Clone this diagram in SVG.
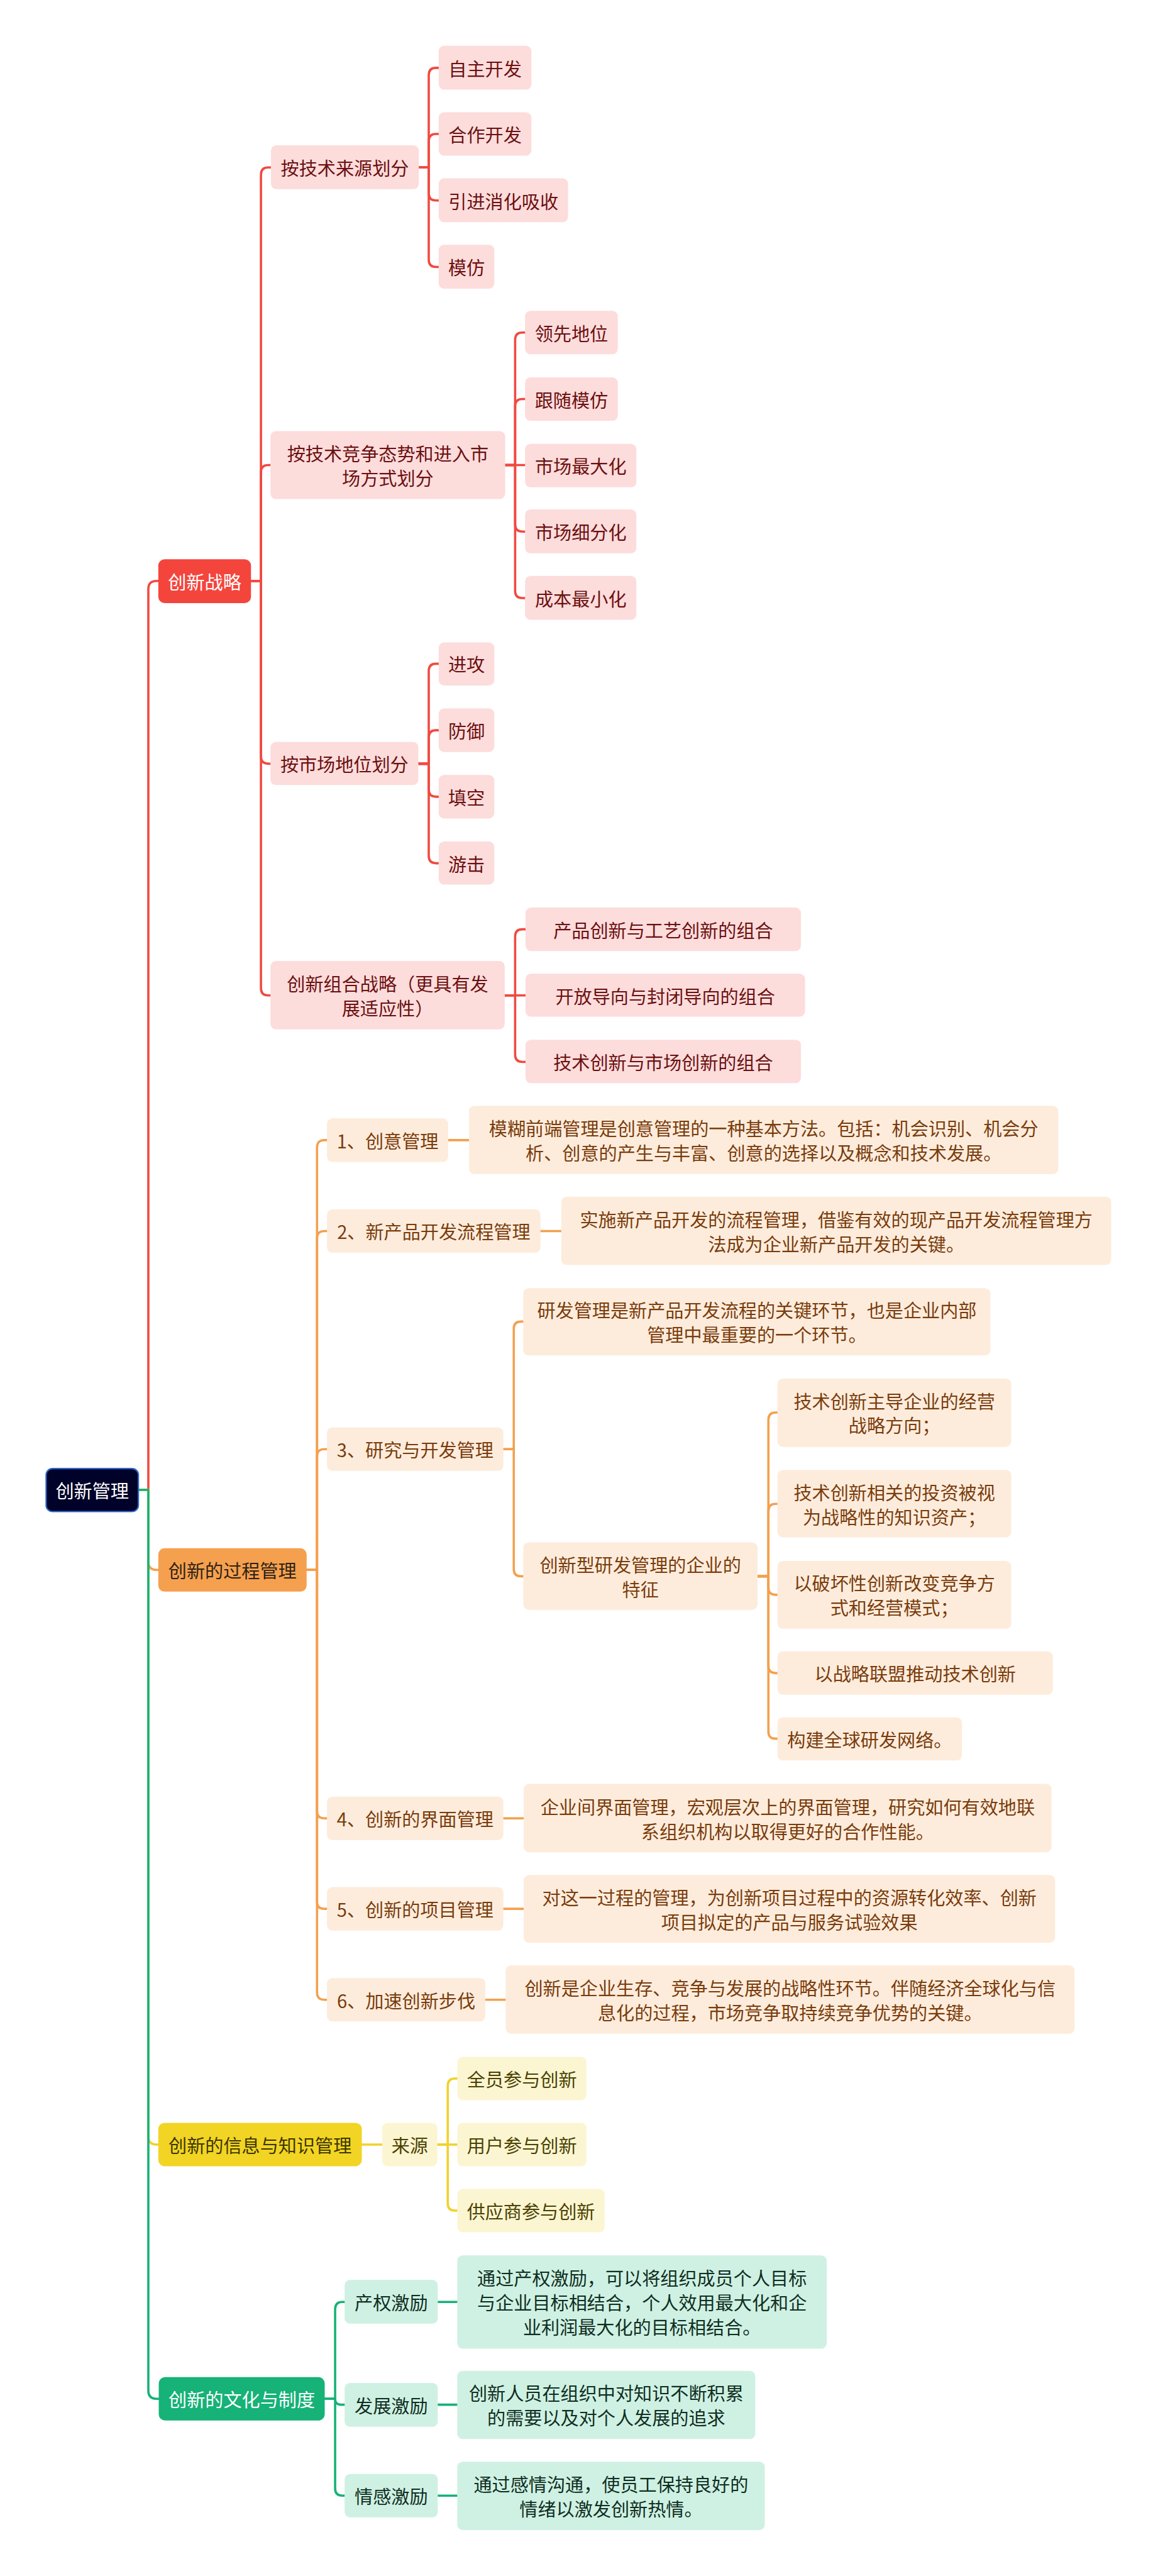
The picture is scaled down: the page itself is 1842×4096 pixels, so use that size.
<svg xmlns="http://www.w3.org/2000/svg" width="1842" height="4096" viewBox="0 0 1842 4096">
<style>
text{font-family:"Noto Sans CJK SC","Noto Sans",sans-serif;font-size:40.5px;text-anchor:middle;dominant-baseline:central}
.c{fill:none;stroke-width:5;stroke-linecap:round;stroke-linejoin:round}
.cr{stroke:#f04a40}.co{stroke:#f3a04e}.cy{stroke:#f0d22a}.cg{stroke:#16b277}
.root{fill:#000229;stroke:#2e66c6;stroke-width:3}
.mr{fill:#f4453d}.mo{fill:#f5a04f}.my{fill:#f2d424}.mg{fill:#16b277}
.sr{fill:#fddcdc}.so{fill:#fdecdc}.sy{fill:#fcf5d2}.sg{fill:#cff1e3}
.tw{fill:#ffffff}.tr{fill:#6b1010}.to{fill:#7a3c0c}.ty{fill:#4a4200}.tg{fill:#0f2e22}.tmo{fill:#2e2214}.tmy{fill:#3b3600}
</style>
<g transform="scale(0.7194)">
<g id="connectors">
<path class="c cr" d="M306,3293 H328 V1302 Q328,1284 346,1284 H350"/>
<path class="c co" d="M306,3293 H328 V3452 Q328,3470 346,3470 H350"/>
<path class="c cy" d="M306,3293 H328 V4722 Q328,4740 346,4740 H350"/>
<path class="c cg" d="M306,3293 H328 V5284 Q328,5302 346,5302 H351"/>
<path class="c cr" d="M555,1284 H577 V386 Q577,370 593,370 H599"/>
<path class="c cr" d="M555,1284 H577 V1044 Q577,1028 593,1028 H598"/>
<path class="c cr" d="M555,1284 H577 V1672 Q577,1688 593,1688 H598"/>
<path class="c cr" d="M555,1284 H577 V2184 Q577,2200 593,2200 H598"/>
<path class="c cr" d="M926,370 H948 V166 Q948,150 964,150 H970"/>
<path class="c cr" d="M926,370 H948 V312 Q948,296 964,296 H970"/>
<path class="c cr" d="M926,370 H948 V427 Q948,443 964,443 H970"/>
<path class="c cr" d="M926,370 H948 V574 Q948,590 964,590 H970"/>
<path class="c cr" d="M1117,1028 H1139 V751 Q1139,735 1155,735 H1161"/>
<path class="c cr" d="M1117,1028 H1139 V898 Q1139,882 1155,882 H1161"/>
<path class="c cr" d="M1117,1028 H1161"/>
<path class="c cr" d="M1117,1028 H1139 V1159 Q1139,1175 1155,1175 H1161"/>
<path class="c cr" d="M1117,1028 H1139 V1306 Q1139,1322 1155,1322 H1161"/>
<path class="c cr" d="M925,1688 H948 V1483 Q948,1467 964,1467 H970"/>
<path class="c cr" d="M925,1688 H948 V1630 Q948,1614 964,1614 H970"/>
<path class="c cr" d="M925,1688 H948 V1745 Q948,1761 964,1761 H970"/>
<path class="c cr" d="M925,1688 H948 V1892 Q948,1908 964,1908 H970"/>
<path class="c cr" d="M1116,2200 H1139 V2070 Q1139,2054 1155,2054 H1162"/>
<path class="c cr" d="M1116,2200 H1162"/>
<path class="c cr" d="M1116,2200 H1139 V2331 Q1139,2347 1155,2347 H1162"/>
<path class="c co" d="M678,3470 H701 V2536 Q701,2520 717,2520 H723"/>
<path class="c co" d="M678,3470 H701 V2737 Q701,2721 717,2721 H723"/>
<path class="c co" d="M678,3470 H701 V3219 Q701,3203 717,3203 H723"/>
<path class="c co" d="M678,3470 H701 V4003 Q701,4019 717,4019 H723"/>
<path class="c co" d="M678,3470 H701 V4203 Q701,4219 717,4219 H723"/>
<path class="c co" d="M678,3470 H701 V4404 Q701,4420 717,4420 H723"/>
<path class="c co" d="M991,2520 H1037"/>
<path class="c co" d="M1195,2721 H1241"/>
<path class="c co" d="M1113,3203 H1136 V2937 Q1136,2921 1152,2921 H1157"/>
<path class="c co" d="M1113,3203 H1136 V3468 Q1136,3484 1152,3484 H1157"/>
<path class="c co" d="M1675,3484 H1699 V3138 Q1699,3122 1715,3122 H1719"/>
<path class="c co" d="M1675,3484 H1699 V3340 Q1699,3324 1715,3324 H1719"/>
<path class="c co" d="M1675,3484 H1699 V3509 Q1699,3525 1715,3525 H1719"/>
<path class="c co" d="M1675,3484 H1699 V3682 Q1699,3698 1715,3698 H1719"/>
<path class="c co" d="M1675,3484 H1699 V3827 Q1699,3843 1715,3843 H1719"/>
<path class="c co" d="M1113,4019 H1158"/>
<path class="c co" d="M1113,4219 H1158"/>
<path class="c co" d="M1073,4420 H1118"/>
<path class="c cy" d="M800,4740 H845"/>
<path class="c cy" d="M967,4740 H990 V4610 Q990,4594 1006,4594 H1011"/>
<path class="c cy" d="M967,4740 H1011"/>
<path class="c cy" d="M967,4740 H990 V4870 Q990,4886 1006,4886 H1011"/>
<path class="c cg" d="M718,5302 H741 V5104 Q741,5088 757,5088 H762"/>
<path class="c cg" d="M718,5302 H741 Q741,5315 754,5315 H762"/>
<path class="c cg" d="M718,5302 H741 V5500 Q741,5516 757,5516 H762"/>
<path class="c cg" d="M968,5088 H1011"/>
<path class="c cg" d="M968,5315 H1011"/>
<path class="c cg" d="M968,5516 H1011"/>
</g>

<g id="root"><rect class="root" x="102" y="3246" width="204" height="95" rx="14"/><text class="tw" x="204" y="3293">创新管理</text></g>

<g id="n-a"><rect class="mr" x="350" y="1236" width="205" height="97" rx="14"/><text class="tw" x="452.5" y="1284">创新战略</text></g>
<g id="n-a1"><rect class="sr" x="599" y="321" width="327" height="97" rx="12"/><text class="tr" x="762.5" y="370">按技术来源划分</text></g>
<g id="n-a1-1"><rect class="sr" x="970" y="101" width="205" height="97" rx="12"/><text class="tr" x="1072.5" y="150">自主开发</text></g>
<g id="n-a1-2"><rect class="sr" x="970" y="248" width="205" height="96" rx="12"/><text class="tr" x="1072.5" y="296">合作开发</text></g>
<g id="n-a1-3"><rect class="sr" x="970" y="394" width="286" height="97" rx="12"/><text class="tr" x="1113" y="443">引进消化吸收</text></g>
<g id="n-a1-4"><rect class="sr" x="970" y="541" width="123" height="97" rx="12"/><text class="tr" x="1031.5" y="590">模仿</text></g>
<g id="n-a2"><rect class="sr" x="598" y="953" width="519" height="150" rx="12"/><text class="tr"><tspan x="857.5" y="1001">按技术竞争态势和进入市</tspan><tspan x="857.5" y="1055">场方式划分</tspan></text></g>
<g id="n-a2-1"><rect class="sr" x="1161" y="687" width="205" height="96" rx="12"/><text class="tr" x="1263.5" y="735">领先地位</text></g>
<g id="n-a2-2"><rect class="sr" x="1161" y="834" width="205" height="96" rx="12"/><text class="tr" x="1263.5" y="882">跟随模仿</text></g>
<g id="n-a2-3"><rect class="sr" x="1161" y="981" width="246" height="96" rx="12"/><text class="tr" x="1284" y="1029">市场最大化</text></g>
<g id="n-a2-4"><rect class="sr" x="1161" y="1126" width="246" height="97" rx="12"/><text class="tr" x="1284" y="1175">市场细分化</text></g>
<g id="n-a2-5"><rect class="sr" x="1161" y="1273" width="246" height="97" rx="12"/><text class="tr" x="1284" y="1322">成本最小化</text></g>
<g id="n-a3"><rect class="sr" x="598" y="1640" width="327" height="95" rx="12"/><text class="tr" x="761.5" y="1688">按市场地位划分</text></g>
<g id="n-a3-1"><rect class="sr" x="970" y="1420" width="123" height="95" rx="12"/><text class="tr" x="1031.5" y="1467">进攻</text></g>
<g id="n-a3-2"><rect class="sr" x="970" y="1566" width="123" height="96" rx="12"/><text class="tr" x="1031.5" y="1614">防御</text></g>
<g id="n-a3-3"><rect class="sr" x="970" y="1713" width="123" height="96" rx="12"/><text class="tr" x="1031.5" y="1761">填空</text></g>
<g id="n-a3-4"><rect class="sr" x="970" y="1860" width="123" height="95" rx="12"/><text class="tr" x="1031.5" y="1908">游击</text></g>
<g id="n-a4"><rect class="sr" x="598" y="2124" width="518" height="151" rx="12"/><text class="tr"><tspan x="857" y="2173">创新组合战略（更具有发</tspan><tspan x="857" y="2227">展适应性）</tspan></text></g>
<g id="n-a4-1"><rect class="sr" x="1162" y="2006" width="609" height="96" rx="12"/><text class="tr" x="1466.5" y="2054">产品创新与工艺创新的组合</text></g>
<g id="n-a4-2"><rect class="sr" x="1162" y="2152" width="618" height="95" rx="12"/><text class="tr" x="1471" y="2200">开放导向与封闭导向的组合</text></g>
<g id="n-a4-3"><rect class="sr" x="1162" y="2298" width="609" height="96" rx="12"/><text class="tr" x="1466.5" y="2347">技术创新与市场创新的组合</text></g>

<g id="n-b"><rect class="mo" x="350" y="3422" width="328" height="96" rx="14"/><text class="tmo" x="514" y="3470">创新的过程管理</text></g>
<g id="n-b1"><rect class="so" x="723" y="2472" width="268" height="96" rx="12"/><text class="to" x="857" y="2520">1、创意管理</text></g>
<g id="n-b1-1"><rect class="so" x="1037" y="2444" width="1303" height="151" rx="12"/><text class="to"><tspan x="1688.5" y="2493">模糊前端管理是创意管理的一种基本方法。包括：机会识别、机会分</tspan><tspan x="1688.5" y="2547">析、创意的产生与丰富、创意的选择以及概念和技术发展。</tspan></text></g>
<g id="n-b2"><rect class="so" x="723" y="2673" width="472" height="96" rx="12"/><text class="to" x="959" y="2721">2、新产品开发流程管理</text></g>
<g id="n-b2-1"><rect class="so" x="1241" y="2645" width="1216" height="151" rx="12"/><text class="to"><tspan x="1849" y="2694">实施新产品开发的流程管理，借鉴有效的现产品开发流程管理方</tspan><tspan x="1849" y="2748">法成为企业新产品开发的关键。</tspan></text></g>
<g id="n-b3"><rect class="so" x="723" y="3155" width="390" height="96" rx="12"/><text class="to" x="918" y="3203">3、研究与开发管理</text></g>
<g id="n-b3-1"><rect class="so" x="1157" y="2847" width="1033" height="149" rx="12"/><text class="to"><tspan x="1673.5" y="2894">研发管理是新产品开发流程的关键环节，也是企业内部</tspan><tspan x="1673.5" y="2948">管理中最重要的一个环节。</tspan></text></g>
<g id="n-b3-2"><rect class="so" x="1157" y="3409" width="518" height="149" rx="12"/><text class="to"><tspan x="1416" y="3457">创新型研发管理的企业的</tspan><tspan x="1416" y="3511">特征</tspan></text></g>
<g id="n-b3-2-1"><rect class="so" x="1719" y="3047" width="517" height="151" rx="12"/><text class="to"><tspan x="1977.5" y="3095">技术创新主导企业的经营</tspan><tspan x="1977.5" y="3149">战略方向；</tspan></text></g>
<g id="n-b3-2-2"><rect class="so" x="1719" y="3249" width="517" height="149" rx="12"/><text class="to"><tspan x="1977.5" y="3297">技术创新相关的投资被视</tspan><tspan x="1977.5" y="3351">为战略性的知识资产；</tspan></text></g>
<g id="n-b3-2-3"><rect class="so" x="1719" y="3450" width="517" height="150" rx="12"/><text class="to"><tspan x="1977.5" y="3498">以破坏性创新改变竞争方</tspan><tspan x="1977.5" y="3552">式和经营模式；</tspan></text></g>
<g id="n-b3-2-4"><rect class="so" x="1719" y="3650" width="609" height="96" rx="12"/><text class="to" x="2023.5" y="3698">以战略联盟推动技术创新</text></g>
<g id="n-b3-2-5"><rect class="so" x="1719" y="3796" width="408" height="95" rx="12"/><text class="to" x="1923" y="3843">构建全球研发网络。</text></g>
<g id="n-b4"><rect class="so" x="723" y="3971" width="390" height="96" rx="12"/><text class="to" x="918" y="4019">4、创新的界面管理</text></g>
<g id="n-b4-1"><rect class="so" x="1158" y="3943" width="1167" height="151" rx="12"/><text class="to"><tspan x="1741.5" y="3992">企业间界面管理，宏观层次上的界面管理，研究如何有效地联</tspan><tspan x="1741.5" y="4046">系组织机构以取得更好的合作性能。</tspan></text></g>
<g id="n-b5"><rect class="so" x="723" y="4171" width="390" height="96" rx="12"/><text class="to" x="918" y="4219">5、创新的项目管理</text></g>
<g id="n-b5-1"><rect class="so" x="1158" y="4144" width="1175" height="150" rx="12"/><text class="to"><tspan x="1745.5" y="4192">对这一过程的管理，为创新项目过程中的资源转化效率、创新</tspan><tspan x="1745.5" y="4246">项目拟定的产品与服务试验效果</tspan></text></g>
<g id="n-b6"><rect class="so" x="723" y="4372" width="350" height="96" rx="12"/><text class="to" x="898" y="4420">6、加速创新步伐</text></g>
<g id="n-b6-1"><rect class="so" x="1118" y="4344" width="1258" height="151" rx="12"/><text class="to"><tspan x="1747" y="4393">创新是企业生存、竞争与发展的战略性环节。伴随经济全球化与信</tspan><tspan x="1747" y="4447">息化的过程，市场竞争取持续竞争优势的关键。</tspan></text></g>

<g id="n-c"><rect class="my" x="350" y="4692" width="450" height="96" rx="14"/><text class="tmy" x="575" y="4740">创新的信息与知识管理</text></g>
<g id="n-c1"><rect class="sy" x="845" y="4692" width="122" height="96" rx="12"/><text class="ty" x="906" y="4740">来源</text></g>
<g id="n-c1-1"><rect class="sy" x="1011" y="4546" width="286" height="96" rx="12"/><text class="ty" x="1154" y="4594">全员参与创新</text></g>
<g id="n-c1-2"><rect class="sy" x="1011" y="4692" width="286" height="96" rx="12"/><text class="ty" x="1154" y="4740">用户参与创新</text></g>
<g id="n-c1-3"><rect class="sy" x="1011" y="4838" width="326" height="96" rx="12"/><text class="ty" x="1174" y="4886">供应商参与创新</text></g>

<g id="n-d"><rect class="mg" x="351" y="5254" width="367" height="96" rx="14"/><text class="tw" x="534.5" y="5302">创新的文化与制度</text></g>
<g id="n-d1"><rect class="sg" x="762" y="5039" width="206" height="97" rx="12"/><text class="tg" x="865" y="5088">产权激励</text></g>
<g id="n-d1-1"><rect class="sg" x="1011" y="4985" width="817" height="206" rx="12"/><text class="tg"><tspan x="1419.5" y="5034">通过产权激励，可以将组织成员个人目标</tspan><tspan x="1419.5" y="5088">与企业目标相结合，个人效用最大化和企</tspan><tspan x="1419.5" y="5142">业利润最大化的目标相结合。</tspan></text></g>
<g id="n-d2"><rect class="sg" x="762" y="5267" width="206" height="97" rx="12"/><text class="tg" x="865" y="5315">发展激励</text></g>
<g id="n-d2-1"><rect class="sg" x="1011" y="5240" width="659" height="151" rx="12"/><text class="tg"><tspan x="1340.5" y="5288">创新人员在组织中对知识不断积累</tspan><tspan x="1340.5" y="5342">的需要以及对个人发展的追求</tspan></text></g>
<g id="n-d3"><rect class="sg" x="762" y="5468" width="206" height="96" rx="12"/><text class="tg" x="865" y="5516">情感激励</text></g>
<g id="n-d3-1"><rect class="sg" x="1011" y="5441" width="680" height="151" rx="12"/><text class="tg"><tspan x="1351" y="5489">通过感情沟通，使员工保持良好的</tspan><tspan x="1351" y="5543">情绪以激发创新热情。</tspan></text></g>
</g>
</svg>
